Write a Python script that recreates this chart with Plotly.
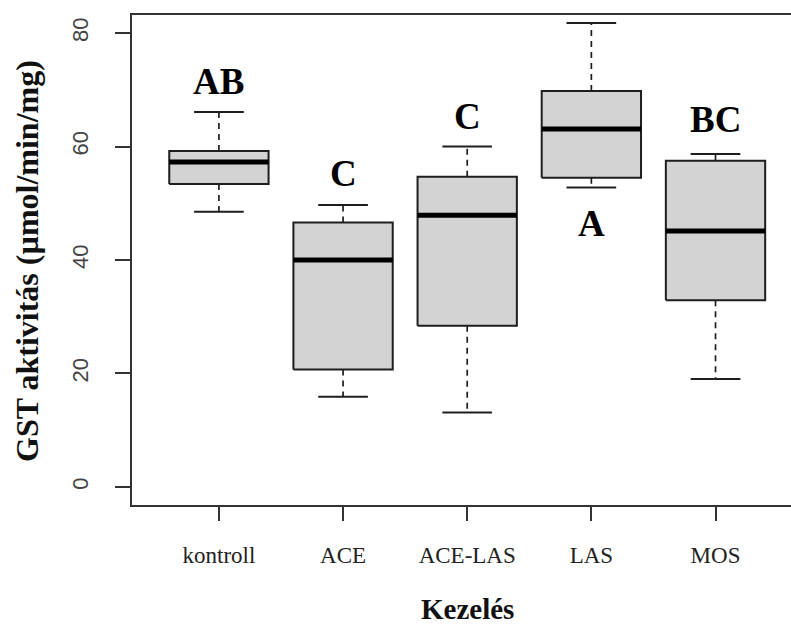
import plotly.graph_objects as go

# GST activity by treatment: five-number summaries per group
groups = ["kontroll", "ACE", "ACE-LAS", "LAS", "MOS"]
lower_whisker = [48.5, 15.9, 13.1, 52.8, 19.0]
q1 = [53.4, 20.7, 28.4, 54.5, 32.9]
median = [57.3, 40.0, 47.9, 63.1, 45.1]
q3 = [59.2, 46.6, 54.7, 69.8, 57.5]
upper_whisker = [66.1, 49.7, 60.0, 81.8, 58.7]

# significance letters and where they sit on the value axis
letters = ["AB", "C", "C", "A", "BC"]
letter_y = [71.5, 55.2, 65.3, 46.5, 64.7]

y_ticks = [0, 20, 40, 60, 80]

positions = list(range(1, len(groups) + 1))
BOX_HALF = 0.4
CAP_HALF = 0.2
INK = "#1e1e1e"
SERIF = "Liberation Serif, Times New Roman, serif"
SANS = "Liberation Sans, Arial, sans-serif"

fig = go.Figure()

for p, lo, a, m, b, hi in zip(positions, lower_whisker, q1, median, q3, upper_whisker):
    # dashed whiskers
    for y0, y1 in ((b, hi), (a, lo)):
        fig.add_trace(go.Scatter(
            x=[p, p], y=[y0, y1], mode="lines",
            line=dict(color=INK, width=1.7, dash="6px,5px"),
            hoverinfo="skip", showlegend=False))
    # whisker caps
    for yc in (hi, lo):
        fig.add_trace(go.Scatter(
            x=[p - CAP_HALF, p + CAP_HALF], y=[yc, yc], mode="lines",
            line=dict(color=INK, width=2),
            hoverinfo="skip", showlegend=False))
    # interquartile box
    fig.add_trace(go.Scatter(
        x=[p - BOX_HALF, p + BOX_HALF, p + BOX_HALF, p - BOX_HALF, p - BOX_HALF],
        y=[a, a, b, b, a], mode="lines", fill="toself",
        fillcolor="#d3d3d3", line=dict(color=INK, width=2),
        hoverinfo="skip", showlegend=False))
    # median bar
    fig.add_trace(go.Scatter(
        x=[p - BOX_HALF, p + BOX_HALF], y=[m, m], mode="lines",
        line=dict(color="#000000", width=5),
        hoverinfo="skip", showlegend=False))

annotations = []
for p, t, ly in zip(positions, letters, letter_y):
    annotations.append(dict(
        x=p, y=ly, xref="x", yref="y", text=t, showarrow=False,
        xanchor="center", yanchor="middle",
        font=dict(family=SERIF, size=37, color="#000000", weight="bold")))

# axis titles
annotations.append(dict(
    x=0, y=0.5, xref="paper", yref="paper", xshift=-105, yshift=-1,
    text="GST aktivitás (µmol/min/mg)",
    textangle=-90, showarrow=False, xanchor="center", yanchor="middle",
    font=dict(family=SERIF, size=32, color="#111111", weight="bold")))
annotations.append(dict(
    x=3, y=0, xref="x", yref="paper", yshift=-104, text="Kezelés",
    showarrow=False, xanchor="center", yanchor="middle",
    font=dict(family=SERIF, size=29, color="#111111", weight="bold")))

fig.update_layout(
    width=791, height=626,
    margin=dict(l=131.5, r=0, t=15, b=121, pad=0),
    paper_bgcolor="white", plot_bgcolor="white",
    showlegend=False,
    annotations=annotations,
    xaxis=dict(
        range=[0.3, 5.608], tickmode="array", tickvals=positions, ticktext=groups,
        ticks="outside", ticklen=14, tickwidth=1.6, tickcolor="#333333",
        showline=True, linecolor="#333333", linewidth=2, mirror=True,
        showgrid=False, zeroline=False, ticklabelstandoff=14,
        tickfont=dict(family=SERIF, size=23, color="#222222")),
    yaxis=dict(
        range=[-3.2, 83.2], tickmode="array", tickvals=y_ticks,
        ticks="outside", ticklen=15, tickwidth=1.6, tickcolor="#333333",
        showline=True, linecolor="#333333", linewidth=2, mirror=False,
        showgrid=False, zeroline=False, tickangle=-90, ticklabelstandoff=18,
        tickfont=dict(family=SANS, size=22, color="#444444")),
)

fig.write_html("out.html")
